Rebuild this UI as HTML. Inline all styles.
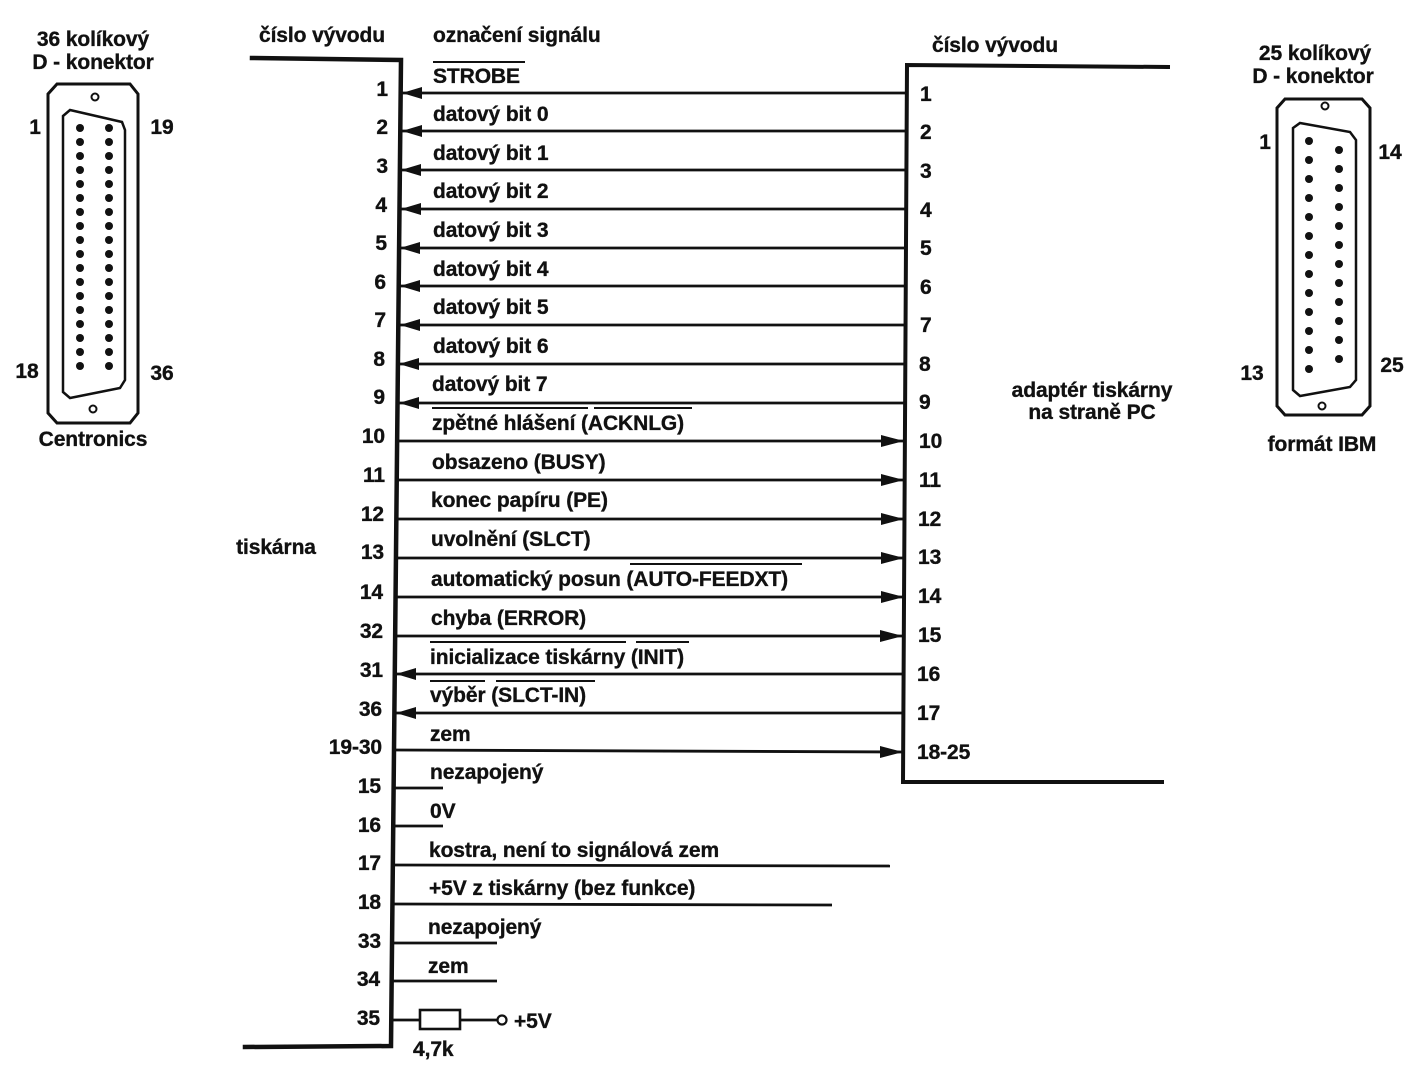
<!DOCTYPE html>
<html><head><meta charset="utf-8"><style>
html,body{margin:0;padding:0;background:#fff}
svg{display:block}
text{font-family:"Liberation Sans",sans-serif;font-weight:bold;font-size:21px;fill:#111;stroke:#111;stroke-width:0.35px;letter-spacing:-0.1px}
</style></head><body>
<svg width="1420" height="1075" viewBox="0 0 1420 1075" xmlns="http://www.w3.org/2000/svg">
<g stroke="#111" fill="none" stroke-linecap="square">
<polyline points="252,58 401,60 391,1046 245,1047" stroke-width="4.5"/>
<polyline points="1168,67 907,65 903,782 1162,782" stroke-width="4"/>
</g>

<text x="322" y="42" text-anchor="middle">číslo vývodu</text>
<text x="433" y="42">označení signálu</text>
<text x="995" y="52" text-anchor="middle">číslo vývodu</text>
<text x="276" y="554" text-anchor="middle">tiskárna</text>
<text x="1092" y="397" text-anchor="middle">adaptér tiskárny</text>
<text x="1092" y="419" text-anchor="middle">na straně PC</text>

<text x="93" y="46" text-anchor="middle">36 kolíkový</text>
<text x="93" y="69" text-anchor="middle">D - konektor</text>
<text x="93" y="446" text-anchor="middle">Centronics</text>
<text x="35" y="134" text-anchor="middle">1</text>
<text x="162" y="134" text-anchor="middle">19</text>
<text x="27" y="378" text-anchor="middle">18</text>
<text x="162" y="380" text-anchor="middle">36</text>
<g stroke="#111" fill="none" stroke-width="3">
<path d="M57,84 L130,84 L138,94 L138,413 L130,423 L57,423 L48,413 L48,94 Z"/>
<path d="M70,110 L122,122 L125,130 L125,380 L120,388 L70,398 L63,392 L63,116 Z" stroke-width="2.5"/>
<circle cx="95" cy="97" r="3.5" stroke-width="2"/>
<circle cx="93" cy="409" r="3.5" stroke-width="2"/>
</g>
<g fill="#111">
<circle cx="80" cy="128" r="4"/><circle cx="80" cy="142" r="4"/><circle cx="80" cy="156" r="4"/><circle cx="80" cy="170" r="4"/><circle cx="80" cy="184" r="4"/><circle cx="80" cy="198" r="4"/><circle cx="80" cy="212" r="4"/><circle cx="80" cy="226" r="4"/><circle cx="80" cy="240" r="4"/><circle cx="80" cy="254" r="4"/><circle cx="80" cy="268" r="4"/><circle cx="80" cy="282" r="4"/><circle cx="80" cy="296" r="4"/><circle cx="80" cy="310" r="4"/><circle cx="80" cy="324" r="4"/><circle cx="80" cy="338" r="4"/><circle cx="80" cy="352" r="4"/><circle cx="80" cy="366" r="4"/>
<circle cx="109" cy="128" r="4"/><circle cx="109" cy="142" r="4"/><circle cx="109" cy="156" r="4"/><circle cx="109" cy="170" r="4"/><circle cx="109" cy="184" r="4"/><circle cx="109" cy="198" r="4"/><circle cx="109" cy="212" r="4"/><circle cx="109" cy="226" r="4"/><circle cx="109" cy="240" r="4"/><circle cx="109" cy="254" r="4"/><circle cx="109" cy="268" r="4"/><circle cx="109" cy="282" r="4"/><circle cx="109" cy="296" r="4"/><circle cx="109" cy="310" r="4"/><circle cx="109" cy="324" r="4"/><circle cx="109" cy="338" r="4"/><circle cx="109" cy="352" r="4"/><circle cx="109" cy="366" r="4"/>
</g>

<text x="1315" y="60" text-anchor="middle">25 kolíkový</text>
<text x="1313" y="83" text-anchor="middle">D - konektor</text>
<text x="1322" y="451" text-anchor="middle">formát IBM</text>
<text x="1265" y="149" text-anchor="middle">1</text>
<text x="1390" y="159" text-anchor="middle">14</text>
<text x="1252" y="380" text-anchor="middle">13</text>
<text x="1392" y="372" text-anchor="middle">25</text>
<g stroke="#111" fill="none" stroke-width="3">
<path d="M1285,99 L1362,99 L1370,108 L1370,406 L1362,415 L1285,415 L1277,406 L1277,108 Z"/>
<path d="M1300,123 L1350,132 L1356,140 L1356,380 L1350,387 L1300,396 L1293,390 L1293,128 Z" stroke-width="2.5"/>
<circle cx="1325" cy="106" r="3.5" stroke-width="2"/>
<circle cx="1322" cy="406" r="3.5" stroke-width="2"/>
</g>
<g fill="#111">
<circle cx="1309" cy="141" r="4"/><circle cx="1309" cy="160" r="4"/><circle cx="1309" cy="179" r="4"/><circle cx="1309" cy="198" r="4"/><circle cx="1309" cy="217" r="4"/><circle cx="1309" cy="236" r="4"/><circle cx="1309" cy="255" r="4"/><circle cx="1309" cy="274" r="4"/><circle cx="1309" cy="293" r="4"/><circle cx="1309" cy="312" r="4"/><circle cx="1309" cy="331" r="4"/><circle cx="1309" cy="350" r="4"/><circle cx="1309" cy="369" r="4"/>
<circle cx="1339" cy="150" r="4"/><circle cx="1339" cy="169" r="4"/><circle cx="1339" cy="188" r="4"/><circle cx="1339" cy="207" r="4"/><circle cx="1339" cy="226" r="4"/><circle cx="1339" cy="245" r="4"/><circle cx="1339" cy="264" r="4"/><circle cx="1339" cy="283" r="4"/><circle cx="1339" cy="302" r="4"/><circle cx="1339" cy="321" r="4"/><circle cx="1339" cy="340" r="4"/><circle cx="1339" cy="359" r="4"/>
</g>

<g stroke="#111" stroke-width="2.8">
<line x1="401" y1="93" x2="907" y2="93"/>
<line x1="401" y1="131" x2="907" y2="131"/>
<line x1="400" y1="170" x2="907" y2="170"/>
<line x1="400" y1="209" x2="906" y2="209"/>
<line x1="399" y1="248" x2="906" y2="248"/>
<line x1="399" y1="286" x2="906" y2="286"/>
<line x1="399" y1="325" x2="906" y2="325"/>
<line x1="398" y1="364" x2="906" y2="364"/>
<line x1="398" y1="403" x2="906" y2="403"/>
<line x1="398" y1="441" x2="905" y2="441"/>
<line x1="397" y1="480" x2="905" y2="480"/>
<line x1="397" y1="519" x2="905" y2="519"/>
<line x1="396" y1="558" x2="905" y2="558"/>
<line x1="396" y1="597" x2="905" y2="597"/>
<line x1="396" y1="636" x2="904" y2="636"/>
<line x1="395" y1="674" x2="904" y2="674"/>
<line x1="395" y1="713" x2="904" y2="713"/>
<line x1="395" y1="750" x2="904" y2="752"/>
<line x1="394" y1="788" x2="443" y2="788"/>
<line x1="394" y1="826" x2="443" y2="826"/>
<line x1="393" y1="865" x2="890" y2="866"/>
<line x1="393" y1="904" x2="832" y2="905"/>
<line x1="392" y1="943" x2="497" y2="943"/>
<line x1="392" y1="981" x2="497" y2="981"/>
<line x1="392" y1="1020" x2="420" y2="1020"/>
<line x1="460" y1="1020" x2="497" y2="1020"/>
</g>
<rect x="420" y="1010" width="40" height="19" fill="#fff" stroke="#111" stroke-width="2.6"/>
<circle cx="502" cy="1020" r="4.5" fill="#fff" stroke="#111" stroke-width="2.2"/>
<text x="514" y="1028">+5V</text>
<text x="413" y="1056">4,7k</text>

<g fill="#111">
<polygon points="402,93 422,87 422,99"/>
<polygon points="402,131 422,125 422,137"/>
<polygon points="401,170 421,164 421,176"/>
<polygon points="401,209 421,203 421,215"/>
<polygon points="400,248 420,242 420,254"/>
<polygon points="400,286 420,280 420,292"/>
<polygon points="400,325 420,319 420,331"/>
<polygon points="399,364 419,358 419,370"/>
<polygon points="399,403 419,397 419,409"/>
<polygon points="904,441 881,435 881,447"/>
<polygon points="904,480 881,474 881,486"/>
<polygon points="904,519 881,513 881,525"/>
<polygon points="904,558 881,552 881,564"/>
<polygon points="904,597 881,591 881,603"/>
<polygon points="903,636 880,630 880,642"/>
<polygon points="396,674 416,668 416,680"/>
<polygon points="396,713 416,707 416,719"/>
<polygon points="903,752 880,746 880,758"/>
</g>

<g text-anchor="end">
<text x="388" y="96">1</text>
<text x="388" y="134">2</text>
<text x="388" y="173">3</text>
<text x="387" y="212">4</text>
<text x="387" y="250">5</text>
<text x="386" y="289">6</text>
<text x="386" y="327">7</text>
<text x="385" y="366">8</text>
<text x="385" y="404">9</text>
<text x="385" y="443">10</text>
<text x="385" y="482">11</text>
<text x="384" y="521">12</text>
<text x="384" y="559">13</text>
<text x="383" y="599">14</text>
<text x="383" y="638">32</text>
<text x="383" y="677">31</text>
<text x="382" y="716">36</text>
<text x="382" y="754">19-30</text>
<text x="381" y="793">15</text>
<text x="381" y="832">16</text>
<text x="381" y="870">17</text>
<text x="381" y="909">18</text>
<text x="381" y="948">33</text>
<text x="380" y="986">34</text>
<text x="380" y="1025">35</text>
</g>

<text x="920" y="101">1</text>
<text x="920" y="139">2</text>
<text x="920" y="178">3</text>
<text x="920" y="217">4</text>
<text x="920" y="255">5</text>
<text x="920" y="294">6</text>
<text x="920" y="332">7</text>
<text x="919" y="371">8</text>
<text x="919" y="409">9</text>
<text x="919" y="448">10</text>
<text x="919" y="487">11</text>
<text x="918" y="526">12</text>
<text x="918" y="564">13</text>
<text x="918" y="603">14</text>
<text x="918" y="642">15</text>
<text x="917" y="681">16</text>
<text x="917" y="720">17</text>
<text x="917" y="759">18-25</text>

<text x="433" y="83">STROBE</text>
<text x="433" y="121">datový bit 0</text>
<text x="433" y="160">datový bit 1</text>
<text x="433" y="198">datový bit 2</text>
<text x="433" y="237">datový bit 3</text>
<text x="433" y="276">datový bit 4</text>
<text x="433" y="314">datový bit 5</text>
<text x="433" y="353">datový bit 6</text>
<text x="432" y="391">datový bit 7</text>
<text x="432" y="430">zpětné hlášení (ACKNLG)</text>
<text x="432" y="469">obsazeno (BUSY)</text>
<text x="431" y="507">konec papíru (PE)</text>
<text x="431" y="546">uvolnění (SLCT)</text>
<text x="431" y="586">automatický posun (AUTO-FEEDXT)</text>
<text x="431" y="625">chyba (ERROR)</text>
<text x="430" y="664">inicializace tiskárny (INIT)</text>
<text x="430" y="702">výběr (SLCT-IN)</text>
<text x="430" y="741">zem</text>
<text x="430" y="779">nezapojený</text>
<text x="430" y="818">0V</text>
<text x="429" y="857">kostra, není to signálová zem</text>
<text x="429" y="895">+5V z tiskárny (bez funkce)</text>
<text x="428" y="934">nezapojený</text>
<text x="428" y="973">zem</text>

<g stroke="#111" stroke-width="2">
<line x1="433" y1="62" x2="525" y2="62"/>
<line x1="432" y1="408" x2="588" y2="408"/>
<line x1="594" y1="408" x2="692" y2="408"/>
<line x1="630" y1="564" x2="802" y2="564"/>
<line x1="430" y1="642" x2="626" y2="642"/>
<line x1="636" y1="642" x2="689" y2="642"/>
<line x1="430" y1="681" x2="485" y2="681"/>
<line x1="496" y1="681" x2="595" y2="681"/>
</g>
</svg>
</body></html>
